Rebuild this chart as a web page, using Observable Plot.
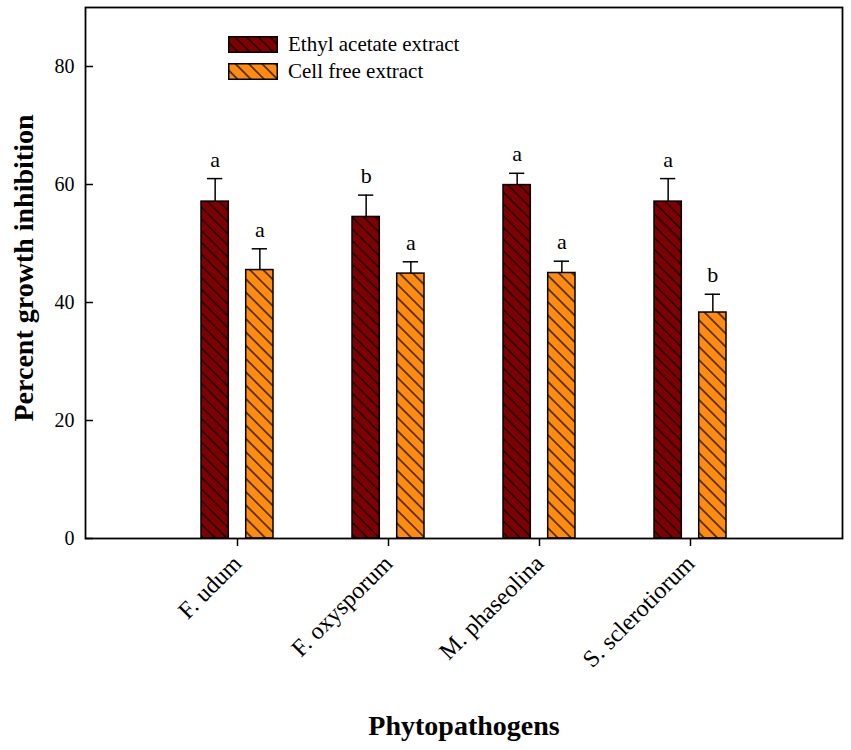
<!DOCTYPE html>
<html>
<head>
<meta charset="utf-8">
<script src="https://cdn.jsdelivr.net/npm/d3@7"></script>
<script src="https://cdn.jsdelivr.net/npm/@observablehq/plot@0.6"></script>
<style>
  html, body { margin: 0; padding: 0; background: #fff; }
  #wrap { position: relative; width: 851px; height: 750px; }
  #legend { position: absolute; left: 228px; top: 31px; font-family: "Liberation Serif", "Times New Roman", serif; font-size: 21px; color: #000; }
  .item { display: flex; align-items: center; height: 27px; }
  .item svg { margin-right: 10px; }
</style>
</head>
<body>
<div id="wrap"><div id="legend"></div></div>
<script>
const categories = ["F. udum", "F. oxysporum", "M. phaseolina", "S. sclerotiorum"];
const seriesNames = ["Ethyl acetate extract", "Cell free extract"];
const ethylValues = [57.1, 54.5, 59.9, 57.1];
const ethylErrors = [3.9, 3.7, 2.0, 3.9];
const ethylLetters = ["a", "b", "a", "a"];
const cellValues = [45.5, 44.9, 45.0, 38.3];
const cellErrors = [3.6, 2.0, 2.0, 3.1];
const cellLetters = ["a", "a", "a", "b"];
const yTicks = [0, 20, 40, 60, 80];
const colors = ["#7f0000", "#ff8c0f"];
const patternIds = ["hatchEA", "hatchCF"];
const patternSpacing = [8.3, 9.4];

const ea = categories.map((c, i) => ({cat: c, value: ethylValues[i], err: ethylErrors[i], letter: ethylLetters[i]}));
const cf = categories.map((c, i) => ({cat: c, value: cellValues[i], err: cellErrors[i], letter: cellLetters[i]}));

function makeDefs() {
  const defs = d3.create("svg:defs");
  patternIds.forEach((id, k) => {
    const s = patternSpacing[k];
    const p = defs.append("pattern").attr("id", id)
      .attr("patternUnits", "userSpaceOnUse")
      .attr("width", s).attr("height", s)
      .attr("patternTransform", "rotate(-45)");
    p.append("rect").attr("width", s).attr("height", s).attr("fill", colors[k]);
    p.append("line").attr("x1", s / 2).attr("x2", s / 2).attr("y1", -1).attr("y2", s + 1)
      .attr("stroke", "#000").attr("stroke-width", 1.2);
  });
  return defs.node();
}

const barW = 28;
const bandW = 72.7;
const off = bandW / 2 - barW / 2;   // offset of bar center from band center
const capHalf = 8;
const common = {stroke: "#000", strokeWidth: 1.5};

const plot = Plot.plot({
  width: 851,
  height: 750,
  marginLeft: 85,
  marginRight: 9,
  marginTop: 7,
  marginBottom: 212,
  style: {fontFamily: "Liberation Serif, Times New Roman, serif", fontSize: "20px", color: "#000", background: "#fff", overflow: "visible"},
  x: {domain: categories, paddingInner: 0.52, paddingOuter: 0.758},
  y: {domain: [0, 90]},
  marks: [
    () => makeDefs(),
    Plot.axisX({tickRotate: -45, tickSize: 8, tickPadding: 13, fontSize: 24, label: null, strokeWidth: 1.5}),
    Plot.axisY({ticks: yTicks, tickSize: 0, tickPadding: 11, fontSize: 20, label: null}),
    Plot.barY(ea, {x: "cat", y: "value", fill: `url(#${patternIds[0]})`, ...common, insetRight: bandW - barW}),
    Plot.barY(cf, {x: "cat", y: "value", fill: `url(#${patternIds[1]})`, ...common, insetLeft: bandW - barW}),
    Plot.ruleX(ea, {x: "cat", y1: "value", y2: d => d.value + d.err, dx: -off, ...common}),
    Plot.ruleX(cf, {x: "cat", y1: "value", y2: d => d.value + d.err, dx: off, ...common}),
    Plot.tickY(ea, {x: "cat", y: d => d.value + d.err, insetLeft: barW / 2 - capHalf, insetRight: bandW - barW / 2 - capHalf, ...common}),
    Plot.tickY(cf, {x: "cat", y: d => d.value + d.err, insetLeft: bandW - barW / 2 - capHalf, insetRight: barW / 2 - capHalf, ...common}),
    Plot.text(ea, {x: "cat", y: d => d.value + d.err, text: "letter", dx: -off, dy: -12, lineAnchor: "bottom", fontSize: 22, fill: "#000"}),
    Plot.text(cf, {x: "cat", y: d => d.value + d.err, text: "letter", dx: off, dy: -12, lineAnchor: "bottom", fontSize: 22, fill: "#000"}),
    Plot.tickY(yTicks, {y: d => d, insetRight: 757 - 8, stroke: "#000", strokeWidth: 1.5}),
    Plot.frame({stroke: "#000", strokeWidth: 1.8}),
    Plot.text(["Percent growth inhibition"], {frameAnchor: "left", textAnchor: "middle", dx: -61, dy: -5, rotate: -90, fontSize: 28, fontWeight: "bold", fill: "#000"}),
    Plot.text(["Phytopathogens"], {frameAnchor: "bottom", textAnchor: "middle", dy: 196, fontSize: 28, fontWeight: "bold", fill: "#000"})
  ]
});

document.getElementById("wrap").prepend(plot);

const legend = d3.select("#legend");
seriesNames.forEach((name, k) => {
  const item = legend.append("div").attr("class", "item");
  const sv = item.append("svg").attr("width", 50).attr("height", 17);
  sv.append("rect").attr("x", 0.75).attr("y", 0.75).attr("width", 48.5).attr("height", 15.5)
    .attr("fill", `url(#${patternIds[k]})`).attr("stroke", "#000").attr("stroke-width", 1.5);
  item.append("span").text(name);
});
</script>
</body>
</html>
